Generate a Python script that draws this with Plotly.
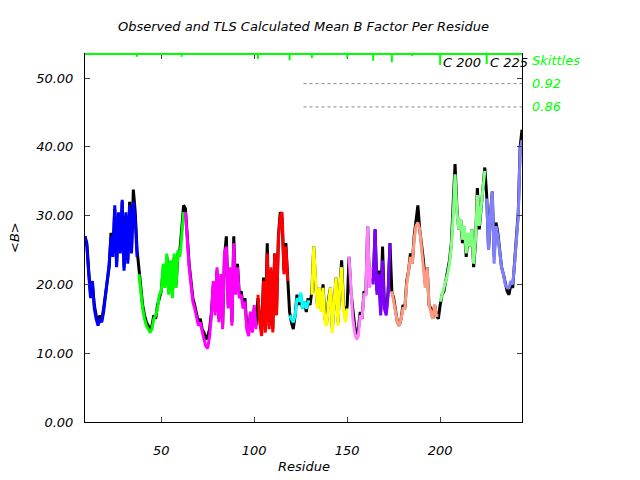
"""Observed vs TLS calculated mean B factor per residue."""

import plotly.graph_objects as go

residues = list(range(9, 245))

observed = [
    # blue 9-37
    27, 26, 22, 18.5, 20, 17, 15.5, 14.5, 15.5, 14.8, 16.5, 18.5, 20.5, 22.5, 27.5,
    24.5, 31, 23, 30, 25, 32, 22.5, 30, 23.5, 32, 25, 33.8, 30.5, 25,
    # green 38-62
    22, 19, 17, 15.5, 14.5, 14, 13.3, 14, 15.5, 15, 17, 18, 19, 22, 20, 24, 19.5,
    23, 18.5, 24, 20, 24.5, 25, 28, 31.5,
    # magenta 63-101
    31, 26, 23, 20.5, 18, 17, 15.5, 14.5, 15, 13.5, 13, 12, 12.5, 13.5, 16, 20, 16,
    22, 15, 21, 14, 24, 27, 17, 22, 14.5, 27, 19, 23, 18.5, 19, 17, 18, 14, 13, 16,
    13.5, 16.5, 14,
    # red 102-118
    18, 15, 13, 21, 13.5, 26, 14, 22, 13.5, 24.5, 16, 27, 30.5, 29.5, 22, 26, 20,
    # cyan 119-130
    16, 14.5, 13.5, 15.5, 18.5, 17, 18.5, 16.5, 17.5, 16, 18, 17,
    # yellow 131-150
    19, 25.5, 20, 17, 19.5, 16.5, 20, 15, 14.5, 18, 19.5, 13.5, 18, 21, 14.5, 20,
    23.5, 17, 15, 17,
    # violet 151-163
    24, 19, 16, 14, 12.5, 13.5, 16, 15, 19, 18.5, 28.5, 20, 22,
    # purple 164-173
    20.5, 28, 19, 22, 16, 25.5, 17, 16, 19, 26,
    # salmon 174-199
    19, 18, 16, 14.5, 14, 15, 17, 16.5, 20.5, 22, 24.5, 23, 27, 29, 31.5, 28, 26,
    23.5, 20, 22.5, 17, 16.5, 15, 17, 15.5, 15,
    # light green 200-224
    17, 18.5, 19, 20.5, 21.5, 23.5, 26, 31, 37.5, 31, 28, 29.5, 26, 28, 24, 27,
    25.5, 28, 22.5, 26, 34, 28, 31, 34, 37,
    # light blue 225-244
    33, 25, 30, 33.5, 24, 29, 27.5, 24.5, 22.5, 21.5, 20, 19, 18.5, 20, 19.5, 23,
    27, 30.5, 40, 42.5,
]

calculated = [
    27, 25.5, 21.5, 18, 20.5, 16.5, 15, 14, 15, 14.5, 16, 18.5, 20, 23, 27, 24,
    31.5, 22.5, 30.5, 24.5, 32.3, 22, 30.5, 23, 31.5, 24.5, 32, 29.5, 24,
    21.5, 18.5, 16.5, 15, 14, 13.5, 13, 13.5, 15, 15.5, 16.5, 18.5, 19, 23, 19.5,
    24.5, 18.5, 23.5, 18, 24.5, 19.5, 25, 24, 27, 30.5,
    30.5, 25.5, 22.5, 20, 17.5, 16.5, 15, 14, 14.5, 13, 12, 11, 10.7, 12.5, 15.5,
    20.5, 15.5, 22.5, 14.5, 21.5, 13.5, 24.5, 25.5, 16.5, 22.5, 14, 26, 18.5, 22.5,
    18, 18.5, 16.5, 17.5, 13.5, 12.5, 16, 13, 17, 13.5,
    18.5, 14.5, 12.5, 20.5, 13, 24.5, 13.5, 22.5, 13, 24.5, 15.5, 26.5, 30, 30.5,
    21.5, 25.5, 20.5,
    15.5, 15, 14.5, 15.5, 18, 17.5, 18.8, 16.5, 17.5, 16.5, 17.5, 17.5,
    18.5, 25.5, 20.5, 16.5, 19.5, 16, 19.5, 14.5, 14, 17.5, 19.5, 13, 17.5, 21, 14,
    19.5, 22.5, 16.5, 14.5, 16.5,
    24, 18.5, 15, 13, 12, 12.5, 15.5, 15, 18.5, 18.5, 28.5, 19.5, 22.5,
    20, 28, 18.5, 21.5, 15.5, 23.5, 16.5, 15.5, 18.5, 26,
    19, 17.5, 15.5, 14.5, 14, 15, 16.5, 16.5, 20, 22, 24, 23, 26.5, 28.5, 29, 28,
    25.5, 23, 19.5, 22.5, 17, 16, 15, 17, 15.5, 15.5,
    17.5, 18.5, 19.5, 20.5, 21.5, 23, 25.5, 30, 36, 30.5, 28, 29.5, 26.5, 28.5,
    24.5, 27.5, 25.5, 28, 23, 26.5, 33, 28.5, 31.5, 34.5, 36.5,
    32.5, 25, 30, 33.5, 23, 28.5, 27, 24.5, 22.5, 21.5, 20, 19.5, 19.5, 20.5, 20,
    23, 26.5, 30, 39.5, 41,
]

# TLS segments (first residue of each) and their colours
segment_starts = [9, 38, 63, 102, 119, 131, 151, 164, 174, 200, 225]
segment_colors = ['#0000ff', '#00ff00', '#ff00ff', '#ff0000', '#00ffff', '#ffff00',
                  '#ff80ff', '#8000ff', '#ff9a80', '#80ff80', '#8080ff']

# skittle marks along the top edge
skittle_res = [37, 61, 102, 119, 131, 150, 164, 174, 185, 200, 225]
skittle_depth = [0.4, 0.4, 0.7, 0.9, 0.6, 0.5, 1.0, 1.2, 0.3, 1.6, 1.45]
chain_labels = ['C 200', 'C 225']
chain_label_res = [200, 225]
skittle_levels = [0.92, 0.86]
skittle_level_y = [49.2, 45.8]

Y_TOP = 53.5
FONT = 'DejaVu Sans'
GREEN = '#00ff00'

fig = go.Figure()

fig.add_trace(go.Scatter(
    x=residues, y=observed, mode='lines',
    line=dict(color='black', width=3), showlegend=False
))

bounds = segment_starts + [residues[-1] + 1]
for i, color in enumerate(segment_colors):
    lo = residues.index(bounds[i])
    hi = residues.index(bounds[i + 1] - 1) + 1
    fig.add_trace(go.Scatter(
        x=residues[lo:hi], y=calculated[lo:hi], mode='lines',
        line=dict(color=color, width=3), showlegend=False
    ))

shapes = []
for yv in skittle_level_y:
    shapes.append(dict(type='line', xref='paper', x0=0.5, x1=1, yref='y', y0=yv, y1=yv,
                       line=dict(color='#888888', width=1, dash='dot')))
shapes.append(dict(type='line', xref='paper', x0=0, x1=1, yref='paper', y0=1, y1=1,
                   line=dict(color=GREEN, width=2)))
for r, d in zip(skittle_res, skittle_depth):
    shapes.append(dict(type='line', x0=r, x1=r, y0=Y_TOP, y1=Y_TOP - d,
                       line=dict(color=GREEN, width=2)))

ann_font = dict(family=FONT, size=13, style='italic')
annotations = [
    dict(text='Observed and TLS Calculated Mean B Factor Per Residue', xref='paper',
         yref='paper', x=0.5, y=1, yshift=28, yanchor='middle', showarrow=False,
         font=dict(ann_font, color='black')),
    dict(text='Residue', xref='paper', yref='paper', x=0.5, y=0, yshift=-44,
         yanchor='middle', showarrow=False, font=dict(ann_font, color='black')),
    dict(text='&lt;B&gt;', xref='paper', yref='paper', x=0, xshift=-71, y=0.5,
         xanchor='center', yanchor='middle', textangle=-90, showarrow=False,
         font=dict(ann_font, color='black')),
    dict(text='Skittles', xref='paper', x=1, xshift=8, xanchor='left', y=52.5,
         showarrow=False, font=dict(ann_font, color=GREEN)),
]
for lab, r in zip(chain_labels, chain_label_res):
    annotations.append(dict(text=lab, x=r, xshift=1, xanchor='left', y=52.2,
                            showarrow=False, font=dict(ann_font, color='black')))
for lv, yv in zip(skittle_levels, skittle_level_y):
    annotations.append(dict(text=f'{lv:.2f}', xref='paper', x=1, xshift=8,
                            xanchor='left', y=yv, showarrow=False,
                            font=dict(ann_font, color=GREEN)))

# page body adds an 8px offset, so margins are shifted to keep the plot in place
fig.update_layout(
    width=640, height=480,
    margin=dict(l=77, r=126, t=46, b=66),
    paper_bgcolor='white', plot_bgcolor='white',
    font=dict(family=FONT, size=13, color='black', style='italic'),
    shapes=shapes, annotations=annotations,
)
fig.update_xaxes(
    range=[9, 244], tickvals=[50, 100, 150, 200], ticks='inside', ticklen=5,
    showline=True, linecolor='black', mirror='ticks', showgrid=False, zeroline=False,
    ticklabelstandoff=16, tickfont=dict(family=FONT, size=13, style='italic'),
)
fig.update_yaxes(
    range=[0, Y_TOP], tickvals=[0, 10, 20, 30, 40, 50], tickformat='.2f',
    ticks='inside', ticklen=5, showline=True, linecolor='black', mirror='ticks',
    showgrid=False, zeroline=False, ticklabelstandoff=8,
    tickfont=dict(family=FONT, size=13, style='italic'),
)

fig.write_html('out.html')
